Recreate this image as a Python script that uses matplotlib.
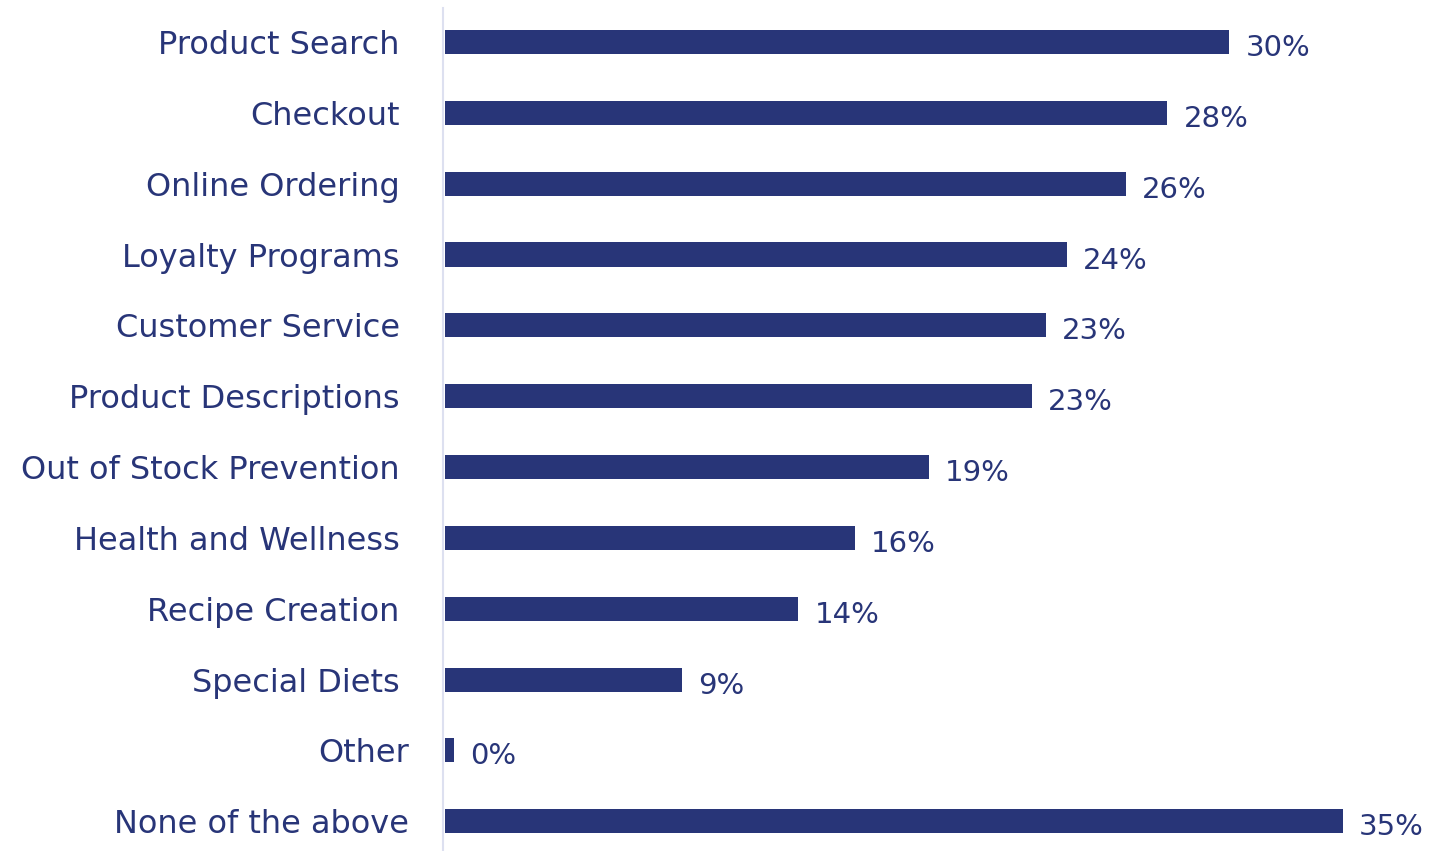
import matplotlib
matplotlib.use("Agg")
import matplotlib.pyplot as plt
from matplotlib.transforms import ScaledTranslation

categories = ["Product Search", "Checkout", "Online Ordering", "Loyalty Programs",
              "Customer Service", "Product Descriptions", "Out of Stock Prevention",
              "Health and Wellness", "Recipe Creation", "Special Diets", "Other",
              "None of the above"]
values = [30.4, 28.0, 26.4, 24.1, 23.3, 22.75, 18.76, 15.9, 13.7, 9.2, 0.35, 34.8]
value_labels = ["30%", "28%", "26%", "24%", "23%", "23%", "19%", "16%", "14%", "9%", "0%", "35%"]

navy = "#283578"
plt.rcParams['font.family'] = ['DejaVu Sans']

fig = plt.figure(figsize=(14.45, 8.51), dpi=100)
ax = fig.add_axes([445/1445, 0, 1 - 445/1445, 843/851])

for s in ["top", "right", "bottom"]:
    ax.spines[s].set_visible(False)
ax.spines["left"].set_position(("outward", 1.5))
ax.spines["left"].set_color("#dde0f0")
ax.spines["left"].set_linewidth(1.5)

ypos = list(range(len(categories)))
ax.barh(ypos, values, height=0.34, color=navy)
ax.set_xlim(0, 1000/25.8)
ax.set_ylim(len(categories) - 1 + 0.42, -0.48)

for y, v, lab in zip(ypos, values, value_labels):
    ax.annotate(lab, xy=(v, y), xytext=(16, -14), textcoords="offset pixels",
                ha="left", va="baseline", fontsize=21, color=navy)

ax.set_yticks(ypos)
ax.set_yticklabels(categories, fontsize=23, color=navy)
ax.tick_params(axis='y', length=0, pad=31)
ax.set_xticks([])
for lbl in ax.get_yticklabels()[-2:]:
    lbl.set_transform(lbl.get_transform() + ScaledTranslation(9/100, 0, fig.dpi_scale_trans))

fig.savefig("out.png", dpi=100, facecolor="white")
